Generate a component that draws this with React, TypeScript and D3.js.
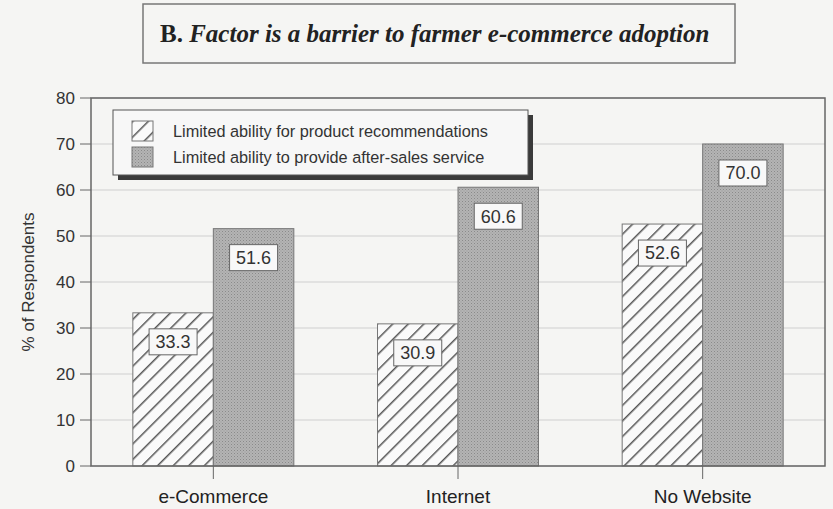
import React from 'react';
import * as d3 from 'd3';

const categories = ['e-Commerce', 'Internet', 'No Website'];
const seriesKeys = ['rec', 'after'];
const seriesNames = [
  'Limited ability for product recommendations',
  'Limited ability to provide after-sales service',
];
const productRec = [33.3, 30.9, 52.6];
const afterSales = [51.6, 60.6, 70.0];
const yTicks = [0, 10, 20, 30, 40, 50, 60, 70, 80];

const W = 833;
const H = 509;
const plot = { left: 91, right: 825, top: 98, bottom: 466 };
const sans = '"Liberation Sans", Arial, sans-serif';
const serif = '"Liberation Serif", "Times New Roman", serif';

export default function App() {
  const x = d3.scaleBand().domain(categories)
    .range([plot.left, plot.right])
    .paddingInner(0.342).paddingOuter(0.171);
  const xs = d3.scaleBand().domain(seriesKeys).range([0, x.bandwidth()]);
  const y = d3.scaleLinear().domain([0, 80]).range([plot.bottom, plot.top]);

  const bars = categories.flatMap((c, i) => [
    { c, key: 'rec', v: productRec[i] },
    { c, key: 'after', v: afterSales[i] },
  ]);

  return (
    <svg width={W} height={H} style={{ position: 'fixed', left: 0, top: 0, background: '#f5f5f3' }}>
      <defs>
        <pattern id="hatch" patternUnits="userSpaceOnUse" width="11" height="11" patternTransform="rotate(45)">
          <rect width="11" height="11" fill="#fafafa" />
          <line x1="0" y1="0" x2="0" y2="11" stroke="#555" strokeWidth="3" />
        </pattern>
        <pattern id="stipple" patternUnits="userSpaceOnUse" width="3" height="3">
          <rect width="3" height="3" fill="#b4b4b4" />
          <rect width="1" height="1" fill="#8a8a8a" />
          <rect x="1.5" y="1.5" width="1" height="1" fill="#9a9a9a" />
        </pattern>
      </defs>

      {/* title */}
      <rect x={143} y={4} width={592} height={59} fill="none" stroke="#777" strokeWidth={1.5} />
      <text x={160} y={42} fontFamily={serif} fontSize={25} fontWeight="bold" fill="#222">
        B. <tspan fontStyle="italic">Factor is a barrier to farmer e-commerce adoption</tspan>
      </text>

      {/* grid */}
      {yTicks.map(t => (
        <g key={t}>
          <line x1={plot.left} x2={plot.right} y1={y(t)} y2={y(t)} stroke="#cfcfcf" strokeWidth={1} />
          <line x1={plot.left - 11} x2={plot.left} y1={y(t)} y2={y(t)} stroke="#666" strokeWidth={1} />
          <text x={75} y={y(t)} dy="0.35em" textAnchor="end" fontFamily={sans} fontSize={17} fill="#333">{t}</text>
        </g>
      ))}

      {/* bars */}
      {bars.map(b => (
        <rect key={b.c + b.key}
          x={(x(b.c) ?? 0) + (xs(b.key) ?? 0)} y={y(b.v)}
          width={xs.bandwidth()} height={y(0) - y(b.v)}
          fill={b.key === 'rec' ? 'url(#hatch)' : 'url(#stipple)'}
          stroke="#777" strokeWidth={1} />
      ))}

      {/* value labels */}
      {bars.map(b => {
        const cx = (x(b.c) ?? 0) + (xs(b.key) ?? 0) + xs.bandwidth() / 2;
        const top = y(b.v) + 16;
        return (
          <g key={'l' + b.c + b.key}>
            <rect x={cx - 24} y={top} width={48} height={26} fill="#f8f8f8" stroke="#666" strokeWidth={1} />
            <text x={cx} y={top + 13} dy="0.35em" textAnchor="middle" fontFamily={sans} fontSize={18} fill="#333">
              {b.v.toFixed(1)}
            </text>
          </g>
        );
      })}

      {/* frame */}
      <rect x={plot.left} y={plot.top} width={plot.right - plot.left} height={plot.bottom - plot.top}
        fill="none" stroke="#666" strokeWidth={1.5} />

      {/* x axis ticks + labels */}
      {categories.map(c => {
        const cx = (x(c) ?? 0) + x.bandwidth() / 2;
        return (
          <g key={c}>
            <line x1={cx} x2={cx} y1={plot.bottom} y2={plot.bottom + 13} stroke="#666" strokeWidth={1} />
            <text x={cx} y={503} textAnchor="middle" fontFamily={sans} fontSize={19} fill="#222">{c}</text>
          </g>
        );
      })}

      <text transform={`translate(34,${(plot.top + plot.bottom) / 2}) rotate(-90)`} textAnchor="middle"
        fontFamily={sans} fontSize={17} fill="#333">% of Respondents</text>

      {/* legend */}
      <rect x={118} y={115} width={415} height={65} fill="#3a3a3a" />
      <rect x={113} y={110} width={415} height={65} fill="#f7f7f7" stroke="#555" strokeWidth={1} />
      {seriesNames.map((n, i) => (
        <g key={n} transform={`translate(132,${121 + i * 26})`}>
          <rect width={21} height={20} fill={i === 0 ? 'url(#hatch)' : 'url(#stipple)'} stroke="#777" strokeWidth={1} />
          <text x={41} y={10} dy="0.35em" fontFamily={sans} fontSize={16.3} fill="#333">{n}</text>
        </g>
      ))}
    </svg>
  );
}
